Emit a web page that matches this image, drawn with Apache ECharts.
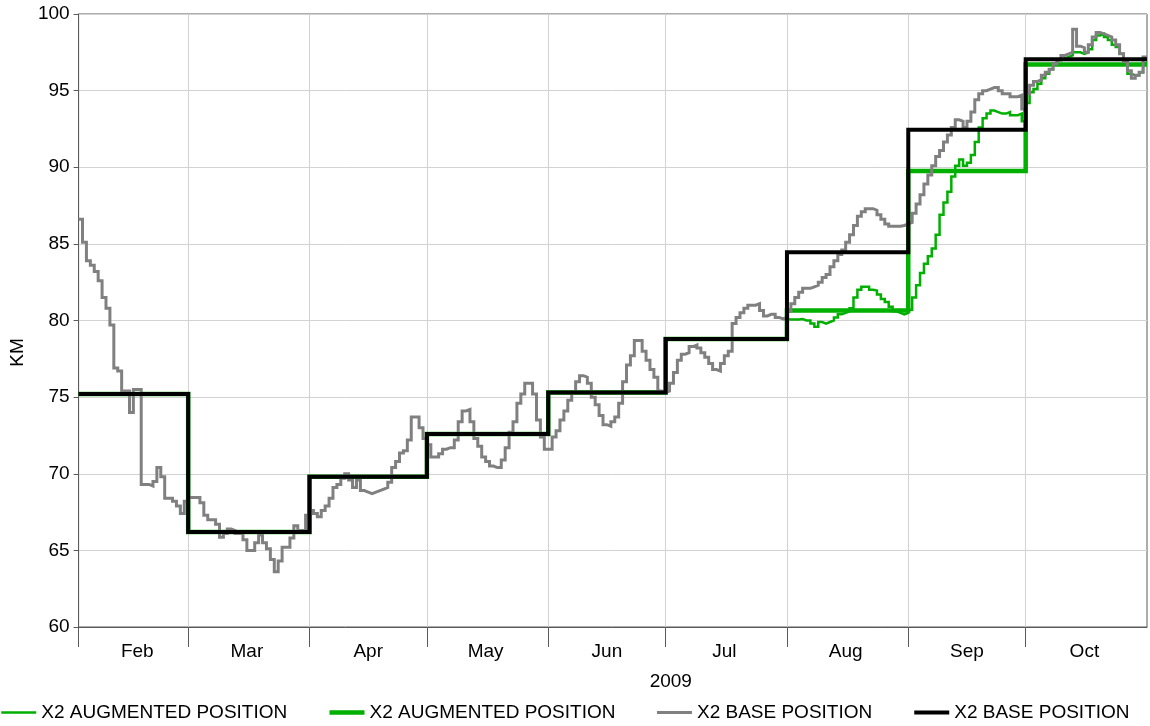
<!DOCTYPE html>
<html>
<head>
<meta charset="utf-8">
<title>X2 position 2009</title>
<script src="https://cdn.jsdelivr.net/npm/echarts@6/dist/echarts.min.js"></script>
<style>
  html, body { margin: 0; padding: 0; background: #fff; }
  #chart { width: 1150px; height: 726px; }
</style>
</head>
<body>
<div id="chart"></div>
<script>
// one value per day, from 1 Feb 2009 to 31 Oct 2009
const baseDaily = [
  // Feb
  86.6, 85.1, 83.9, 83.6, 83.2, 82.6, 81.5, 80.8, 79.7, 76.9, 76.7, 75.4, 75.4, 74.0,
  75.5, 75.5, 69.3, 69.3, 69.2, 69.5, 70.4, 69.8, 68.4, 68.4, 68.2, 67.9, 67.4, 68.2,
  // Mar
  68.45, 68.45, 68.45, 68.1, 67.3, 67.0, 67.0, 66.7, 65.85, 66.1, 66.4, 66.3, 66.1, 66.1, 65.7, 65.0,
  65.0, 65.5, 66.0, 65.5, 65.1, 64.4, 63.6, 64.3, 65.2, 65.2, 65.8, 66.6, 66.3, 66.3, 67.3,
  // Apr
  67.6, 67.4, 67.2, 67.6, 67.9, 68.4, 69.1, 69.3, 69.7, 70.0, 69.6, 69.1, 69.6, 68.9, 68.8,
  68.7, 68.8, 68.9, 69.0, 69.1, 69.45, 70.4, 70.8, 71.35, 71.5, 72.2, 73.7, 73.7, 73.0, 72.3,
  // May
  71.9, 71.1, 71.1, 71.3, 71.6, 71.7, 71.7, 72.2, 73.4, 74.1, 74.2, 73.4, 72.3, 71.8, 71.1, 70.8,
  70.5, 70.4, 70.4, 70.9, 71.7, 72.7, 73.4, 74.6, 75.2, 75.9, 75.9, 75.2, 73.5, 72.4, 71.6,
  // Jun
  71.6, 72.4, 72.8, 73.5, 74.1, 74.8, 75.3, 76.0, 76.4, 76.3, 75.9, 75.0, 74.5, 73.8, 73.2,
  73.1, 73.4, 73.7, 74.6, 76.0, 77.1, 77.7, 78.7, 78.7, 78.0, 77.4, 76.8, 76.3, 75.4, 75.3,
  // Jul
  75.4, 75.9, 76.6, 77.4, 77.8, 77.9, 78.3, 78.4, 78.2, 77.9, 77.6, 77.2, 76.8, 76.7, 77.2, 77.7,
  78.0, 79.8, 80.2, 80.5, 80.8, 81.0, 81.0, 81.1, 80.65, 80.3, 80.4, 80.4, 80.2, 80.1, 80.2,
  // Aug
  80.6, 81.1, 81.5, 81.85, 82.1, 82.1, 82.2, 82.3, 82.5, 82.8, 83.0, 83.5, 83.9, 84.3, 84.6, 85.1,
  85.6, 86.2, 86.8, 87.1, 87.3, 87.3, 87.2, 86.9, 86.6, 86.3, 86.15, 86.15, 86.15, 86.2, 86.3,
  // Sep
  86.4, 87.0, 87.6, 88.2, 88.9, 89.5, 90.1, 90.7, 91.1, 91.65, 92.1, 92.6, 93.1, 93.0, 92.6,
  93.0, 93.6, 94.4, 94.8, 95.0, 95.1, 95.2, 95.2, 95.0, 94.8, 94.8, 94.6, 94.6, 94.7, 93.8,
  // Oct
  94.8, 95.35, 95.6, 95.7, 96.0, 96.2, 96.4, 96.76, 97.0, 97.3, 97.4, 97.5, 99.0, 97.9, 97.8, 97.5,
  98.0, 98.5, 98.8, 98.7, 98.6, 98.5, 98.3, 98.0, 97.4, 96.9, 96.3, 95.8, 96.0, 96.2, 97.2
]

// augmented run, one value per day from 31 Jul 2009 (before that it lies under the base line)
const augDailyFrom = new Date(2009, 6, 31)
const augDaily = [
  80.1,
  // Aug
  80.07, 80.07, 80.07, 80.1, 80.0, 80.0, 79.8, 79.6, 79.9, 79.8, 79.9, 80.0, 80.2, 80.4, 80.5, 80.6,
  80.8, 81.5, 82.0, 82.2, 82.2, 82.0, 81.95, 81.7, 81.4, 81.2, 80.9, 80.6, 80.5, 80.4, 80.5,
  // Sep
  80.7, 81.5, 82.3, 83.1, 83.7, 84.2, 84.7, 85.6, 86.9, 87.7, 88.4, 89.4, 90.1, 90.5, 90.1,
  90.3, 90.8, 91.65, 92.6, 93.2, 93.5, 93.7, 93.6, 93.5, 93.5, 93.6, 93.4, 93.4, 93.5, 93.0,
  // Oct
  94.2, 94.9, 95.1, 95.45, 95.8, 96.1, 96.4, 96.76, 97.0, 97.1, 97.2, 97.3, 97.5, 97.5, 97.4, 97.5,
  97.7, 98.3, 98.6, 98.7, 98.5, 98.3, 98.0, 97.85, 97.4, 96.7, 96.1, 96.0, 96.0, 96.2, 96.8
]

// monthly positions, Feb .. Oct
const monthLabels = ['Feb', 'Mar', 'Apr', 'May', 'Jun', 'Jul', 'Aug', 'Sep', 'Oct']
const baseMonthly = [75.2, 66.2, 69.8, 72.6, 75.3, 78.8, 84.45, 92.45, 97.05]
const augMonthly = [75.2, 66.2, 69.8, 72.6, 75.3, 78.8, 80.65, 89.75, 96.7]

const yTicks = [60, 65, 70, 75, 80, 85, 90, 95, 100]
const legendLabels = {
  augDaily: 'X2 AUGMENTED POSITION',
  augMonthly: 'X2 AUGMENTED POSITION',
  baseDaily: 'X2 BASE POSITION',
  baseMonthly: 'X2 BASE POSITION'
}

const FONT = '"Liberation Sans", Arial, sans-serif'
const GREEN = '#00b000'
const AXIS = '#5a5a5a'
const GRID = '#d2d2d2'

// x is counted in days from 1 Feb 2009
const origin = new Date(2009, 1, 1)
const dayOf = date => Math.round((date - origin) / 86400000)
const endDay = dayOf(new Date(2009, 10, 1))

const monthStarts = monthLabels.map((m, i) => dayOf(new Date(2009, 1 + i, 1)))
const monthMiddles = monthLabels.map((m, i) => dayOf(new Date(2009, 1 + i, 16)))

// each value holds for its day, the last one carried to the end of the axis
function dailyRows (values, start) {
  const rows = values.map((v, i) => [start + i, v])
  rows.push([endDay, values[values.length - 1]])
  return rows
}
function monthlyRows (values) {
  const rows = values.map((v, i) => [monthStarts[i], v])
  rows.push([endDay, values[values.length - 1]])
  return rows
}

const chart = echarts.init(document.getElementById('chart'), null, { renderer: 'canvas' })

chart.setOption({
  animation: false,
  textStyle: { fontFamily: FONT },
  grid: {
    left: 77,
    right: 3,
    top: 14,
    bottom: 99,
    show: true,
    borderColor: AXIS,
    borderWidth: 1,
    containLabel: false
  },
  legend: {
    left: 0,
    top: 703,
    padding: 0,
    itemGap: 40,
    itemWidth: 35,
    itemHeight: 14,
    data: Object.keys(legendLabels),
    formatter: name => legendLabels[name],
    textStyle: { fontFamily: FONT, fontSize: 19, color: '#000' },
    lineStyle: { width: 'inherit' },
    itemStyle: { opacity: 0, borderWidth: 0 },
    selectedMode: false
  },
  xAxis: {
    type: 'value',
    min: 0,
    max: endDay,
    name: '2009',
    nameLocation: 'middle',
    nameGap: 45,
    nameTextStyle: { fontFamily: FONT, fontSize: 19, color: '#000', padding: [0, 0, 0, 116] },
    axisLine: { show: true, onZero: false, lineStyle: { color: AXIS, width: 1 } },
    axisTick: { show: true, length: 20, customValues: monthStarts, lineStyle: { color: AXIS } },
    axisLabel: {
      customValues: monthMiddles,
      margin: 15,
      fontFamily: FONT,
      fontSize: 19,
      color: '#000',
      formatter: value => monthLabels[monthMiddles.indexOf(value)]
    },
    splitLine: { show: true, lineStyle: { color: GRID, width: 1 } }
  },
  yAxis: {
    type: 'value',
    min: yTicks[0],
    max: yTicks[yTicks.length - 1],
    interval: 5,
    name: 'KM',
    nameLocation: 'middle',
    nameGap: 46,
    nameTextStyle: { fontFamily: FONT, fontSize: 19, color: '#000', padding: [0, 64, 0, 0] },
    axisLine: { show: true, lineStyle: { color: AXIS, width: 1 } },
    axisTick: { show: true, length: 5, lineStyle: { color: AXIS } },
    axisLabel: { margin: 9, fontFamily: FONT, fontSize: 19, color: '#000' },
    splitLine: { show: true, lineStyle: { color: GRID, width: 1 } }
  },
  series: [
    {
      name: 'augDaily',
      type: 'line',
      step: 'end',
      symbol: 'none',
      silent: true,
      data: dailyRows(augDaily, dayOf(augDailyFrom)),
      itemStyle: { color: GREEN },
      lineStyle: { color: GREEN, width: 2.5, join: 'miter' }
    },
    {
      name: 'augMonthly',
      type: 'line',
      step: 'end',
      symbol: 'none',
      silent: true,
      data: monthlyRows(augMonthly),
      itemStyle: { color: GREEN },
      lineStyle: { color: GREEN, width: 4.5, join: 'miter' }
    },
    {
      name: 'baseDaily',
      type: 'line',
      step: 'end',
      symbol: 'none',
      silent: true,
      data: dailyRows(baseDaily, 0),
      itemStyle: { color: '#808080' },
      lineStyle: { color: '#808080', width: 3, join: 'miter' }
    },
    {
      name: 'baseMonthly',
      type: 'line',
      step: 'end',
      symbol: 'none',
      silent: true,
      data: monthlyRows(baseMonthly),
      itemStyle: { color: '#000' },
      lineStyle: { color: '#000', width: 4, join: 'miter' }
    }
  ]
})
</script>
</body>
</html>
